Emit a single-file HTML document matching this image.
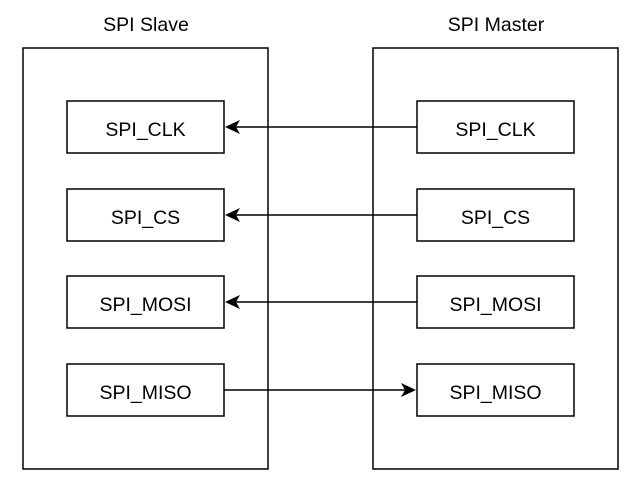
<!DOCTYPE html>
<html><head><meta charset="utf-8"><style>
html,body{margin:0;padding:0;background:#fff;}
</style></head><body>
<svg width="642" height="483" xmlns="http://www.w3.org/2000/svg" font-family="Liberation Sans, Arial, sans-serif">
<rect width="642" height="483" fill="#fff"/>
<g fill="none" stroke="#000" stroke-width="1.5">
<rect x="23" y="48" width="245" height="421"/>
<rect x="373" y="48" width="245" height="421"/>
<rect x="67" y="101" width="157" height="52"/>
<rect x="67" y="189" width="157" height="52"/>
<rect x="67" y="276" width="157" height="52"/>
<rect x="67" y="364" width="157" height="52"/>
<rect x="417" y="101" width="157" height="52"/>
<rect x="417" y="189" width="157" height="52"/>
<rect x="417" y="276" width="157" height="52"/>
<rect x="417" y="364" width="157" height="52"/>
<line x1="417" y1="127" x2="232" y2="127"/>
<line x1="417" y1="215" x2="232" y2="215"/>
<line x1="417" y1="302" x2="232" y2="302"/>
<line x1="224" y1="390" x2="409" y2="390"/>
</g>
<g fill="#000">
<path d="M225,127 L240,120 L236,127 L240,134 Z"/>
<path d="M225,215 L240,208 L236,215 L240,222 Z"/>
<path d="M225,302 L240,295 L236,302 L240,309 Z"/>
<path d="M416,390 L401,383 L405,390 L401,397 Z"/>
</g>
<g font-size="19.5" text-anchor="middle" fill="#000">
<text x="146" y="31">SPI Slave</text>
<text x="496" y="31">SPI Master</text>
<text x="145.5" y="136">SPI_CLK</text>
<text x="145.5" y="224">SPI_CS</text>
<text x="145.5" y="311">SPI_MOSI</text>
<text x="145.5" y="399">SPI_MISO</text>
<text x="495.5" y="136">SPI_CLK</text>
<text x="495.5" y="224">SPI_CS</text>
<text x="495.5" y="311">SPI_MOSI</text>
<text x="495.5" y="399">SPI_MISO</text>
</g>
</svg>
</body></html>
